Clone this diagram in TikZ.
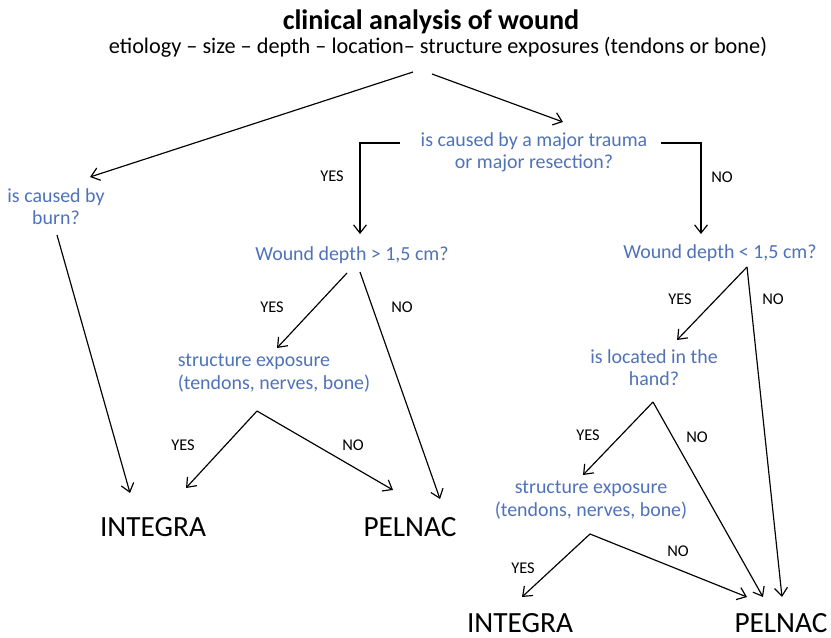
\documentclass[tikz,border=0pt]{standalone}
\usepackage{fontspec}
\setmainfont{Carlito}
\usetikzlibrary{arrows.meta}

\definecolor{qblue}{RGB}{79,114,184}

\tikzset{
	question/.style={text=qblue,font=\fontsize{17}{19}\selectfont,align=center,inner sep=0pt},
	answer/.style={font=\fontsize{14}{16}\selectfont,inner sep=0pt},
	product/.style={font=\fontsize{25}{30}\selectfont,inner sep=0pt},
	link/.style={draw,line width=1pt,-{Straight Barb[length=7pt,width=11pt]}},
}

\begin{document}
\begin{tikzpicture}[x=0.03cm,y=-0.03cm]
		\useasboundingbox (0,0) rectangle (831,638);

		% heading
		\node[font=\bfseries\fontsize{24}{28}\selectfont,inner sep=0pt] at (431,22) (title) {clinical analysis of wound};
		\node[font=\fontsize{19}{22}\selectfont,inner sep=0pt] at (438,47) (sub)
		{etiology – size – depth – location– structure exposures (tendons or bone)};

		% questions
		\node[question] at (56,207) (burn) {is caused by\\burn?};
		\node[question] at (534,152) (trauma) {is caused by a major trauma\\or major resection?};
		\node[question] at (352,255) (depthL) {Wound depth > 1,5 cm?};
		\node[question] at (720,253) (depthR) {Wound depth < 1,5 cm?};
		\node[question,align=left] at (274,373) (expL) {structure exposure\\(tendons, nerves, bone)};
		\node[question] at (654,368) (hand) {is located in the\\hand?};
		\node[question] at (591,500) (expR) {structure exposure\\(tendons, nerves, bone)};

		% results
		\node[product] at (153,527) (intL) {INTEGRA};
		\node[product] at (410,527) (pelL) {PELNAC};
		\node[product] at (520,623) (intR) {INTEGRA};
		\node[product] at (781,623) (pelR) {PELNAC};

		% answers
		\node[answer] at (332,176) (y1) {YES};
		\node[answer] at (722,177) (n1) {NO};
		\node[answer] at (272,307) (y2) {YES};
		\node[answer] at (402,307) (n2) {NO};
		\node[answer] at (183,445) (y3) {YES};
		\node[answer] at (353,445) (n3) {NO};
		\node[answer] at (680,299) (y4) {YES};
		\node[answer] at (773,299) (n4) {NO};
		\node[answer] at (588,435) (y5) {YES};
		\node[answer] at (697,437) (n5) {NO};
		\node[answer] at (523,568) (y6) {YES};
		\node[answer] at (678,551) (n6) {NO};

		% connector ends
		\coordinate (rootL) at (413,72);
		\coordinate (rootR) at (432,74);
		\coordinate (burn-in) at (90,177);
		\coordinate (trauma-in) at (563,122);
		\coordinate (trauma-l) at (400,143);
		\coordinate (trauma-r) at (661,143);
		\coordinate (depthL-in) at (360,234);
		\coordinate (depthR-in) at (701,234);
		\coordinate (burn-out) at (57,235);
		\coordinate (depthL-out1) at (347,273);
		\coordinate (depthL-out2) at (360,272);
		\coordinate (expL-in) at (277,348);
		\coordinate (expL-out) at (257,411);
		\coordinate (intL-in1) at (130,493);
		\coordinate (intL-in2) at (186,488);
		\coordinate (pelL-in1) at (440,499);
		\coordinate (pelL-in2) at (393,490);
		\coordinate (depthR-out) at (747,267);
		\coordinate (hand-in) at (677,340);
		\coordinate (hand-out) at (653,402);
		\coordinate (expR-in) at (583,475);
		\coordinate (expR-out) at (590,534);
		\coordinate (intR-in) at (522,597);
		\coordinate (pelR-in1) at (782,597);
		\coordinate (pelR-in2) at (763,597);
		\coordinate (pelR-in3) at (747,597);

		% connectors
		\draw[link] (rootL) -- (burn-in);
		\draw[link] (rootR) -- (trauma-in);
		\draw[link] (trauma-l) -| (depthL-in);
		\draw[link] (trauma-r) -| (depthR-in);
		\draw[link] (burn-out) -- (intL-in1);
		\draw[link] (depthL-out1) -- (expL-in);
		\draw[link] (depthL-out2) -- (pelL-in1);
		\draw[link] (expL-out) -- (intL-in2);
		\draw[link] (expL-out) -- (pelL-in2);
		\draw[link] (depthR-out) -- (hand-in);
		\draw[link] (depthR-out) -- (pelR-in1);
		\draw[link] (hand-out) -- (expR-in);
		\draw[link] (hand-out) -- (pelR-in2);
		\draw[link] (expR-out) -- (intR-in);
		\draw[link] (expR-out) -- (pelR-in3);
	\end{tikzpicture}
\end{document}
